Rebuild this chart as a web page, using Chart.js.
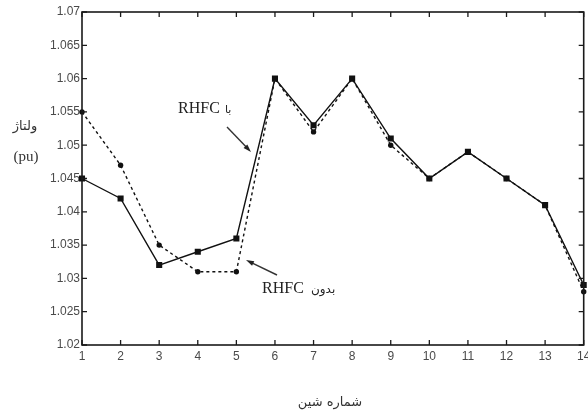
<!DOCTYPE html>
<html>
<head>
<meta charset="utf-8">
<script src="https://cdn.jsdelivr.net/npm/chart.js@4/dist/chart.umd.min.js"></script>
<style>
  html, body { margin: 0; padding: 0; background: #fff; }
  canvas { display: block; }
</style>
</head>
<body>
<canvas id="c" width="588" height="412"></canvas>
<script>
// Bus numbers along the x axis
const busNumbers = [1, 2, 3, 4, 5, 6, 7, 8, 9, 10, 11, 12, 13, 14];
// Bus voltage (pu) with the RHFC installed
const voltageWithRHFC = [1.045, 1.042, 1.032, 1.034, 1.036, 1.060, 1.053, 1.060, 1.051, 1.045, 1.049, 1.045, 1.041, 1.029];
// Bus voltage (pu) without the RHFC
const voltageWithoutRHFC = [1.055, 1.047, 1.035, 1.031, 1.031, 1.060, 1.052, 1.060, 1.050, 1.045, 1.049, 1.045, 1.041, 1.028];
// Voltage axis ticks and their labels
const voltageTicks = [1.02, 1.025, 1.03, 1.035, 1.04, 1.045, 1.05, 1.055, 1.06, 1.065, 1.07];
const voltageTickLabels = ['1.02', '1.025', '1.03', '1.035', '1.04', '1.045', '1.05', '1.055', '1.06', '1.065', '1.07'];

const TICK_FONT = { family: '"Liberation Sans", Arial, sans-serif', size: 12 };
const TICK_COLOR = '#4a4a4a';

function drawArrow(ctx, x1, y1, x2, y2) {
  const ang = Math.atan2(y2 - y1, x2 - x1);
  const len = 8, half = 2.6;
  ctx.beginPath();
  ctx.moveTo(x1, y1);
  ctx.lineTo(x2 - Math.cos(ang) * len * 0.6, y2 - Math.sin(ang) * len * 0.6);
  ctx.stroke();
  ctx.beginPath();
  ctx.moveTo(x2, y2);
  ctx.lineTo(x2 - Math.cos(ang) * len + Math.sin(ang) * half, y2 - Math.sin(ang) * len - Math.cos(ang) * half);
  ctx.lineTo(x2 - Math.cos(ang) * len - Math.sin(ang) * half, y2 - Math.sin(ang) * len + Math.cos(ang) * half);
  ctx.closePath();
  ctx.fill();
}

// Box frame with inward ticks on all four sides, axis titles and annotations
const framePlugin = {
  id: 'frame',
  afterDatasetsDraw(chart) {
    const { ctx, chartArea: a, scales: { x, y } } = chart;
    ctx.save();
    ctx.strokeStyle = '#1a1a1a';
    ctx.lineWidth = 1.6;
    ctx.strokeRect(a.left, a.top, a.right - a.left, a.bottom - a.top);

    ctx.lineWidth = 1.3;
    ctx.beginPath();
    busNumbers.forEach(v => {
      const px = x.getPixelForValue(v);
      ctx.moveTo(px, a.bottom); ctx.lineTo(px, a.bottom - 5);
      ctx.moveTo(px, a.top); ctx.lineTo(px, a.top + 5);
    });
    voltageTicks.forEach(v => {
      const py = y.getPixelForValue(v);
      ctx.moveTo(a.left, py); ctx.lineTo(a.left + 5, py);
      ctx.moveTo(a.right, py); ctx.lineTo(a.right - 5, py);
    });
    ctx.stroke();

    // axis titles
    ctx.fillStyle = '#333';
    ctx.textAlign = 'center';
    ctx.textBaseline = 'middle';
    ctx.font = '13px "DejaVu Sans", sans-serif';
    ctx.fillText('ولتاژ', 25, 127);
    ctx.font = '15px "Liberation Serif", "Times New Roman", serif';
    ctx.fillText('(pu)', 26, 157);
    ctx.font = '13px "DejaVu Sans", sans-serif';
    ctx.fillText('شماره شین', 330, 403);

    // annotations
    ctx.fillStyle = '#222';
    ctx.strokeStyle = '#333';
    ctx.lineWidth = 1.4;
    ctx.textAlign = 'left';
    ctx.font = '16px "Liberation Serif", "Times New Roman", serif';
    ctx.fillText('RHFC', 178, 109);
    ctx.fillText('RHFC', 262, 289);
    ctx.font = '11px "DejaVu Sans", sans-serif';
    ctx.fillText('با', 225, 110);
    ctx.font = '12px "DejaVu Sans", sans-serif';
    ctx.fillText('بدون', 311, 290);

    drawArrow(ctx, 227, 127, 251, 152);
    drawArrow(ctx, 277, 275, 246, 260);
    ctx.restore();
  }
};

const chart = new Chart(document.getElementById('c'), {
  type: 'line',
  data: {
    datasets: [
      {
        label: 'بدون RHFC',
        data: busNumbers.map((b, i) => ({ x: b, y: voltageWithoutRHFC[i] })),
        borderColor: '#111',
        backgroundColor: '#111',
        borderWidth: 1.4,
        borderDash: [3, 3],
        pointStyle: 'circle',
        pointRadius: 2.7,
        pointBorderWidth: 0,
        tension: 0,
        clip: 5
      },
      {
        label: 'با RHFC',
        data: busNumbers.map((b, i) => ({ x: b, y: voltageWithRHFC[i] })),
        borderColor: '#111',
        backgroundColor: '#111',
        borderWidth: 1.4,
        pointStyle: 'rect',
        pointRadius: 4.3,
        pointBorderWidth: 0,
        tension: 0,
        clip: 5
      }
    ]
  },
  options: {
    responsive: false,
    animation: false,
    devicePixelRatio: 1,
    layout: { padding: { top: 12, right: 1, left: 0, bottom: 0 } },
    plugins: { legend: { display: false }, tooltip: { enabled: false } },
    scales: {
      x: {
        type: 'linear',
        min: 1,
        max: 14,
        afterBuildTicks: s => { s.ticks = busNumbers.map(v => ({ value: v })); },
        afterFit: s => { s.height = 67; s.paddingLeft = 0; s.paddingRight = 0; },
        grid: { display: false, drawTicks: false },
        border: { display: false },
        ticks: { font: TICK_FONT, color: TICK_COLOR, padding: 4, maxRotation: 0, autoSkip: false,
                 callback: v => String(v) }
      },
      y: {
        type: 'linear',
        min: 1.02,
        max: 1.07,
        afterBuildTicks: s => { s.ticks = voltageTicks.map(v => ({ value: v })); },
        afterFit: s => { s.width = 82; s.paddingTop = 0; s.paddingBottom = 0; },
        grid: { display: false, drawTicks: false },
        border: { display: false },
        ticks: { font: TICK_FONT, color: TICK_COLOR, padding: 2, autoSkip: false,
                 callback: (v, i) => voltageTickLabels[i] }
      }
    }
  },
  plugins: [framePlugin]
});
</script>
</body>
</html>
